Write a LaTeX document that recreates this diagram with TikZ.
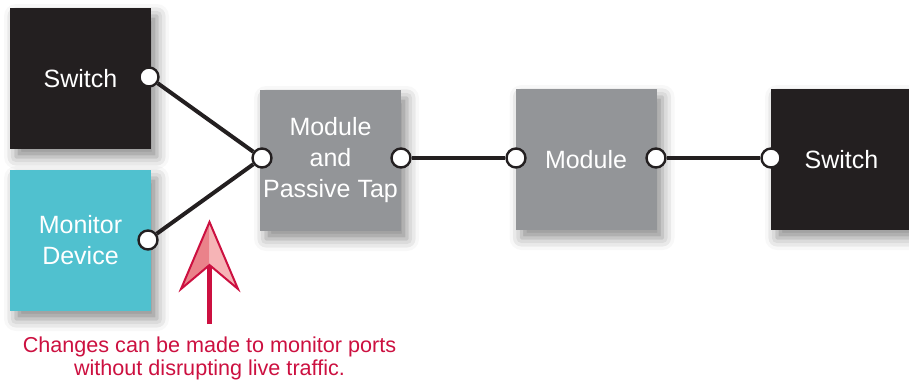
\documentclass[tikz,border=0pt]{standalone}
\usepackage{fontspec}
\setmainfont{Liberation Sans}
\usetikzlibrary{shadows.blur}
\definecolor{swblack}{RGB}{35,31,32}
\definecolor{monteal}{RGB}{80,193,207}
\definecolor{modgray}{RGB}{147,149,152}
\definecolor{notered}{RGB}{204,16,64}
\definecolor{arrowdark}{RGB}{234,130,138}
\definecolor{arrowlight}{RGB}{246,180,182}
\begin{document}
\begin{tikzpicture}[x=0.5pt,y=-0.5pt,
  boxnode/.style={rectangle, minimum width=70.5pt, minimum height=70.5pt, inner sep=0pt,
    text=white, align=center, font=\fontsize{12.5}{15.5}\selectfont,
    blur shadow={shadow xshift=3pt, shadow yshift=-4pt, shadow blur radius=6pt, shadow opacity=45}},
  portnode/.style={circle, draw=swblack, fill=white, line width=1.2pt, minimum size=9.5pt, inner sep=0pt},
  wire/.style={draw=swblack, line width=2pt},
  notetext/.style={text=notered, align=center, font=\fontsize{10.8}{11.5}\selectfont}]
\useasboundingbox (0,0) rectangle (909,381);
% boxes
\node[boxnode, fill=swblack] (sw1) at (80.5,78.5) {Switch};
\node[boxnode, fill=monteal] (mon) at (80.5,240.5) {Monitor\\Device};
\node[boxnode, fill=modgray] (tap) at (330.5,160.5) {Module\\and\\Passive Tap};
\node[boxnode, fill=modgray] (mod) at (586,159.5) {Module};
\node[boxnode, fill=swblack] (sw2) at (841.5,159.5) {Switch};
% ports
\node[portnode] (p1) at (149,77) {};
\node[portnode] (p2) at (148,240) {};
\node[portnode] (p3) at (262,158) {};
\node[portnode] (p4) at (401,158) {};
\node[portnode] (p5) at (516,158) {};
\node[portnode] (p6) at (656,158) {};
\node[portnode] (p7) at (771,158) {};
% wires
\draw[wire] (p1) -- (p3);
\draw[wire] (p2) -- (p3);
\draw[wire] (p4) -- (p5);
\draw[wire] (p6) -- (p7);
% arrow
\coordinate (atip) at (209.5,222);
\coordinate (aleft) at (181,289);
\coordinate (aright) at (238,289);
\coordinate (anotch) at (209.5,265);
\coordinate (abase) at (209.5,324);
\draw[notered, line width=2.5pt] (abase) -- (anotch);
\fill[arrowdark] (atip) -- (aleft) -- (anotch) -- cycle;
\fill[arrowlight] (atip) -- (anotch) -- (aright) -- cycle;
\draw[notered, line width=1pt, line join=miter] (atip) -- (aleft) -- (anotch) -- (aright) -- cycle;
% note
\node[notetext] (note) at (209.5,358.5) {Changes can be made to monitor ports\\without disrupting live traffic.};
\end{tikzpicture}
\end{document}
